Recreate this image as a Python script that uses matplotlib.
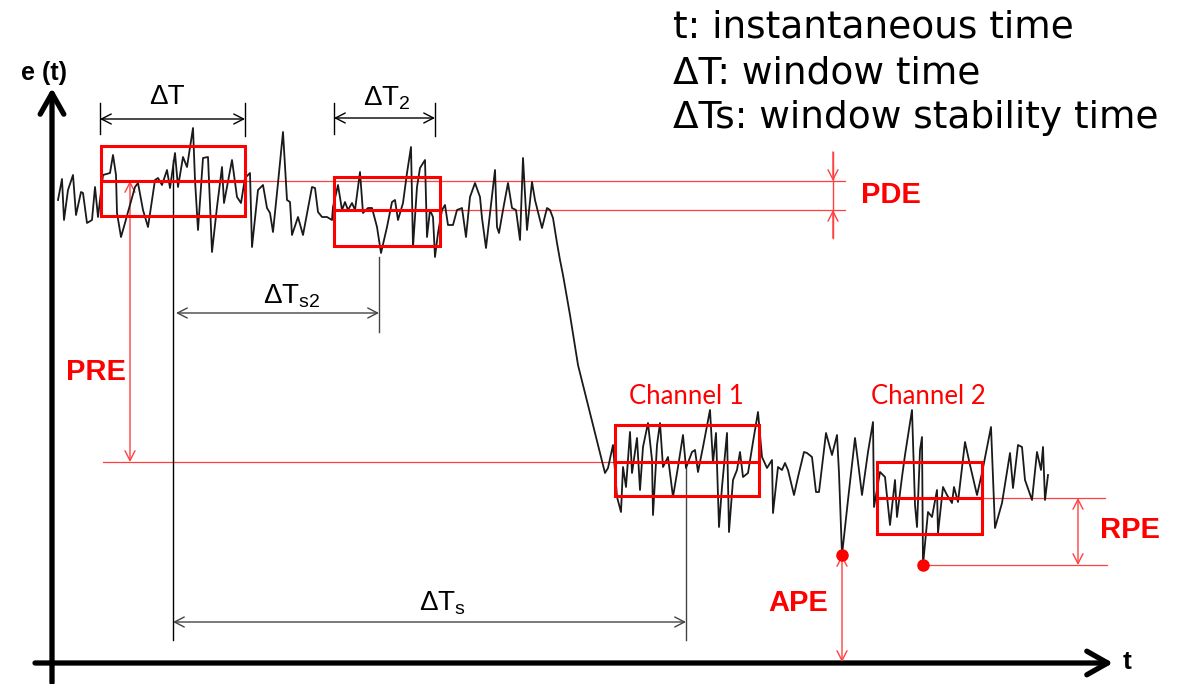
import matplotlib
matplotlib.use('Agg')
import matplotlib.pyplot as plt
from matplotlib.patches import Rectangle

plt.rcParams['mathtext.fontset'] = 'custom'
plt.rcParams['mathtext.rm'] = 'Liberation Sans'
plt.rcParams['mathtext.it'] = 'Liberation Sans'

# signal e(t) (pixel space, y axis points down)
sig_t = [58, 62, 64, 68, 73, 76, 81, 83, 87, 92, 95, 98, 103, 110, 113, 116, 117, 121, 125, 128,
         135, 138, 143, 148, 155, 158, 162, 167, 170, 175, 178, 183, 187, 193, 195, 198, 203, 208, 212, 217,
         222, 224, 232, 237, 241, 245, 250, 252, 258, 263, 267, 270, 273, 278, 283, 287, 290, 292, 298, 303,
         312, 315, 318, 322, 327, 332, 333, 338, 342, 345, 348, 352, 355, 360, 363, 368, 372, 377, 381, 387,
         392, 395, 398, 403, 407, 411, 413, 417, 420, 425, 427, 430, 433, 435, 438, 442, 445, 448, 453, 457,
         462, 466, 470, 475, 480, 482, 486, 490, 495, 497, 499, 503, 508, 512, 516, 520, 523, 527, 532, 535,
         542, 547, 550, 553, 557, 560, 563, 570, 578, 588, 598, 605, 608, 613, 617, 621, 623, 626, 630, 632,
         637, 640, 643, 648, 652, 653, 657, 660, 663, 668, 673, 678, 683, 686, 692, 695, 698, 703, 710, 713,
         716, 719, 722, 727, 729, 733, 737, 740, 743, 748, 753, 758, 762, 767, 772, 773, 778, 782, 785, 788,
         794, 798, 804, 807, 812, 816, 819, 826, 832, 837, 839, 842, 848, 855, 858, 862, 868, 873, 874, 880,
         885, 890, 895, 897, 902, 905, 912, 915, 917, 920, 922, 923, 928, 932, 937, 938, 943, 947, 952, 954,
         958, 965, 970, 977, 982, 991, 995, 1002, 1010, 1013, 1018, 1022, 1025, 1032, 1037, 1041, 1043, 1045, 1048]
sig_e = [200, 179, 220, 190, 175, 215, 192, 193, 223, 220, 187, 217, 175, 173, 155, 175, 213, 237, 223, 212,
         187, 183, 210, 227, 180, 178, 185, 170, 188, 153, 187, 157, 167, 128, 180, 230, 158, 157, 252, 207,
         167, 203, 160, 197, 203, 178, 173, 247, 190, 185, 208, 213, 232, 183, 132, 200, 202, 235, 217, 235,
         187, 188, 212, 217, 217, 220, 207, 185, 210, 202, 210, 203, 210, 172, 213, 208, 208, 227, 253, 227,
         202, 200, 220, 203, 173, 147, 247, 187, 168, 160, 237, 210, 217, 257, 233, 210, 205, 225, 225, 210,
         208, 237, 197, 183, 197, 218, 248, 213, 170, 227, 233, 210, 183, 208, 210, 240, 158, 230, 182, 200,
         228, 208, 210, 218, 243, 260, 275, 315, 365, 405, 445, 473, 468, 445, 497, 512, 467, 487, 432, 473,
         438, 490, 447, 423, 460, 515, 445, 423, 467, 457, 497, 467, 435, 468, 452, 450, 472, 447, 410, 463,
         433, 527, 487, 433, 532, 480, 470, 452, 477, 473, 442, 412, 457, 468, 460, 513, 467, 470, 463, 470,
         495, 477, 452, 453, 457, 492, 492, 433, 455, 435, 473, 555, 500, 438, 462, 495, 452, 422, 507, 472,
         477, 525, 480, 517, 477, 455, 410, 505, 527, 450, 437, 565, 512, 517, 490, 533, 487, 495, 503, 487,
         502, 442, 465, 495, 473, 427, 528, 503, 453, 488, 445, 447, 480, 500, 452, 470, 447, 500, 475]

# observation windows (red boxes)
win_left = [101, 334, 615, 877]
win_right = [245, 440, 759, 982]
win_top = [146, 177, 425, 462]
win_bottom = [216, 246, 496, 534]
win_mid = [181, 210, 462, 498]
channel_names = ['Channel 1', 'Channel 2']

# peak error points
peak_t = [842, 923]
peak_e = [555, 565]

legend_lines = ['t: instantaneous time', 'ΔT: window time', 'ΔTs: window stability time']

RED = '#ff0000'
LRED = '#ff4040'
ARIAL = 'Liberation Sans'

fig = plt.figure(figsize=(11.86, 6.84), dpi=100)
ax = fig.add_axes([0, 0, 1, 1])
ax.set_xlim(0, 1186)
ax.set_ylim(684, 0)
ax.axis('off')


def arrow(x0, y0, x1, y1, color='k', lw=1.0, style='<->', hl=7, hw=3.6, z=3):
    ax.annotate('', xy=(x1, y1), xytext=(x0, y0),
                arrowprops=dict(arrowstyle='%s,head_length=%g,head_width=%g' % (style, hl, hw),
                                color=color, lw=lw, shrinkA=0, shrinkB=0, mutation_scale=1),
                zorder=z)


# axes of the diagram
arrow(52, 683, 52, 88, lw=3.8, style='->', hl=15, hw=8.5)
arrow(35, 663, 1113, 663, lw=3.8, style='->', hl=15, hw=8.5)
ax.text(44, 73, 'e (t)', fontsize=18, fontweight='bold', family=ARIAL, ha='center', va='center')
ax.text(1127, 662, 't', fontsize=19, fontweight='bold', family=ARIAL, ha='center', va='center')

# signal
ax.plot(sig_t, sig_e, color='#1a1a1a', lw=1.3, zorder=4)

# thin red reference lines
ax.plot([245, 845], [win_mid[0]] * 2, color=LRED, lw=0.9, zorder=2)
ax.plot([440, 845], [win_mid[1]] * 2, color=LRED, lw=0.9, zorder=2)
ax.plot([103, 615], [win_mid[2]] * 2, color=LRED, lw=0.9, zorder=2)
ax.plot([982, 1105], [win_mid[3]] * 2, color=LRED, lw=0.9, zorder=2)
ax.plot([peak_t[1], 1107], [peak_e[1]] * 2, color=LRED, lw=0.9, zorder=2)

# red windows
for l, r, t, b, m in zip(win_left, win_right, win_top, win_bottom, win_mid):
    ax.add_patch(Rectangle((l, t), r - l, b - t, fill=False, ec=RED, lw=2.2, zorder=5))
    ax.plot([l, r], [m, m], color=RED, lw=2.2, zorder=5)

for name, l, r in zip(channel_names, win_left[2:], win_right[2:]):
    ax.text((l + r) / 2 - 1, 397, name, color=RED, fontsize=18.5, family='Lato',
            ha='center', va='center')

ax.plot(peak_t, peak_e, 'o', color=RED, ms=8, zorder=6)

# window widths
for x0, x1, y in [(100, 245, 119), (334, 435, 118)]:
    arrow(x0, y, x1, y)
    ax.plot([x0, x0], [103, 134], color='k', lw=1.0)
    ax.plot([x1, x1], [103, 136], color='k', lw=1.0)
ax.text(167, 97, 'ΔT', fontsize=20, family=ARIAL, ha='center', va='center')
ax.text(387, 98, r'$\mathrm{ΔT_2}$', fontsize=20, ha='center', va='center')

# stability times
ax.plot([173, 173], [160, 640], color='k', lw=1.0, zorder=3)
ax.plot([379, 379], [257, 332], color='#444444', lw=1.0, zorder=3)
ax.plot([686, 686], [468, 640], color='#444444', lw=1.0, zorder=3)
arrow(176, 313, 379, 313, color='#444444')
arrow(173, 622, 686, 622, color='#444444')
ax.text(292, 296, r'$\mathrm{ΔT_{s2}}$', fontsize=20, ha='center', va='center')
ax.text(442, 603, r'$\mathrm{ΔT_s}$', fontsize=20, ha='center', va='center')

# error measures
arrow(833, 152, 833, win_mid[0], color=LRED, style='->')
arrow(833, 238, 833, win_mid[1], color=LRED, style='->')
ax.plot([833, 833], [152, 238], color=LRED, lw=1.0)
ax.text(891, 195, 'PDE', color=RED, fontsize=21, fontweight='bold', family=ARIAL, ha='center', va='center')

arrow(130, win_mid[2], 130, win_mid[0], color=LRED)
ax.text(96, 372, 'PRE', color=RED, fontsize=21, fontweight='bold', family=ARIAL, ha='center', va='center')

arrow(1078, win_mid[3], 1078, peak_e[1], color=LRED)
ax.text(1130, 530, 'RPE', color=RED, fontsize=21, fontweight='bold', family=ARIAL, ha='center', va='center')

arrow(842, peak_e[0], 842, 662, color=LRED)
ax.text(798, 603, 'APE', color=RED, fontsize=21, fontweight='bold', family=ARIAL, ha='center', va='center')

# legend text
for i, line in enumerate(legend_lines):
    ax.text(673, 28 + 45 * i, line, fontsize=27, ha='left', va='center')

fig.savefig('out.png', dpi=100)
